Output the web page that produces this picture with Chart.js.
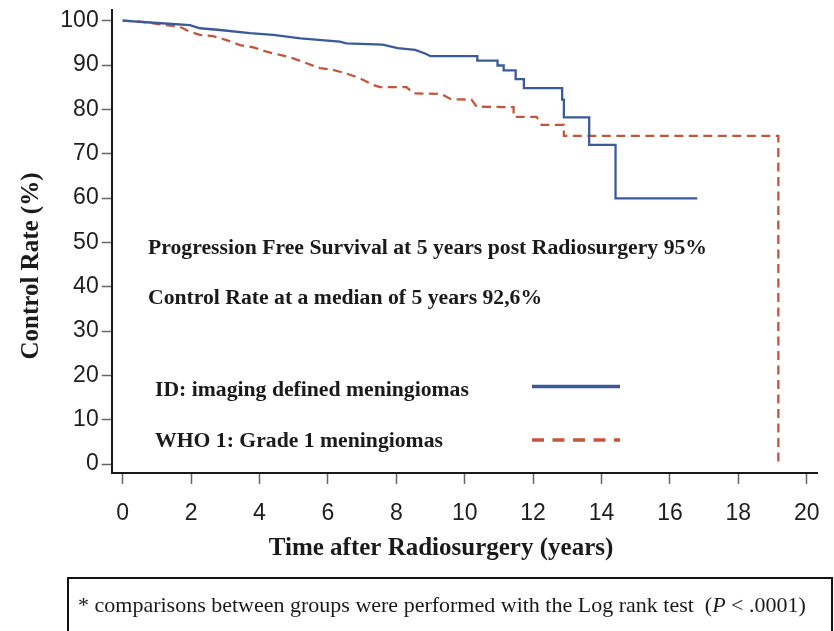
<!DOCTYPE html>
<html>
<head>
<meta charset="utf-8">
<script src="https://cdn.jsdelivr.net/npm/chart.js@4.4.1/dist/chart.umd.min.js"></script>
<style>
    html, body { margin: 0; padding: 0; background: #ffffff; }
    #wrap { width: 834px; height: 631px; }
</style>
</head>
<body>
<div id="wrap"><canvas id="km" width="834" height="631"></canvas></div>
<script>
// Kaplan-Meier control rate (%) by years after radiosurgery.
// Vertices of the drawn curves; a repeated time is a vertical drop.
const idTimes  = [0, 0.8, 1.97, 2.26, 2.85, 3.72, 4.4, 5.2, 6.35, 6.54, 7.6, 8.04, 8.55, 8.84, 9.0, 10.37, 10.37, 10.96, 10.96, 11.14, 11.14, 11.49, 11.49, 11.73, 11.73, 12.85, 12.85, 12.9, 12.9, 13.64, 13.64, 14.41, 14.41, 16.8];
const idRates  = [100, 99.6, 99.0, 98.3, 97.9, 97.2, 96.8, 96.0, 95.3, 94.9, 94.6, 93.8, 93.4, 92.6, 92.0, 92.0, 91.0, 91.0, 89.9, 89.9, 88.8, 88.8, 86.8, 86.8, 84.8, 84.8, 82.2, 82.2, 78.2, 78.2, 72.0, 72.0, 59.9, 59.9];

const whoTimes = [0, 0.51, 1.68, 1.97, 2.26, 2.65, 3.04, 3.43, 3.82, 4.21, 4.6, 4.99, 5.38, 5.77, 6.15, 6.54, 6.94, 7.33, 7.52, 8.3, 8.5, 9.3, 9.6, 10.2, 10.35, 11.43, 11.43, 12.1, 12.25, 12.9, 12.9, 19.17, 19.17];
const whoRates = [100, 99.8, 98.6, 97.5, 96.8, 96.5, 95.6, 94.5, 94.0, 93.0, 92.3, 91.5, 90.4, 89.3, 88.9, 88.1, 87.0, 85.5, 85.0, 85.0, 83.6, 83.5, 82.3, 82.2, 80.6, 80.5, 78.3, 78.3, 76.5, 76.5, 74.0, 74.0, 0];

const xTicks = [0, 2, 4, 6, 8, 10, 12, 14, 16, 18, 20];
const yTicks = [0, 10, 20, 30, 40, 50, 60, 70, 80, 90, 100];

const BLUE = '#3b5a9a';
const RED = '#c4553d';
const SERIF = '"Liberation Serif", "Times New Roman", serif';
const tickFont = { family: '"Liberation Sans", Arial, sans-serif', size: 23 };

function toPoints(xs, ys) {
    return xs.map((x, i) => ({ x: x, y: ys[i] }));
}

// keep the scales from pushing the plot area around
function fixScale(size) {
    return s => {
        if (s.isHorizontal()) s.height = size; else s.width = size;
        s.paddingTop = 0;
        s.paddingBottom = 0;
        s.paddingLeft = 0;
        s.paddingRight = 0;
    };
}

// text, legend samples and the footnote box
const notesPlugin = {
    id: 'notes',
    afterDraw(chart) {
        const ctx = chart.ctx;
        ctx.save();
        ctx.fillStyle = '#1a1a1a';
        ctx.textBaseline = 'alphabetic';
        ctx.textAlign = 'left';

        ctx.font = 'bold 21.7px ' + SERIF;
        ctx.fillText('Progression Free Survival at 5 years post Radiosurgery 95%', 148, 254);
        ctx.fillText('Control Rate at a median of 5 years 92,6%', 148, 304);
        ctx.fillText('ID: imaging defined meningiomas', 155, 396);
        ctx.fillText('WHO 1: Grade 1 meningiomas', 155, 447);

        // legend samples
        ctx.lineWidth = 3.5;
        ctx.strokeStyle = BLUE;
        ctx.beginPath();
        ctx.moveTo(532, 386.5);
        ctx.lineTo(620, 386.5);
        ctx.stroke();
        ctx.strokeStyle = RED;
        ctx.setLineDash([12, 8.5]);
        ctx.beginPath();
        ctx.moveTo(532, 440);
        ctx.lineTo(620, 440);
        ctx.stroke();
        ctx.setLineDash([]);

        // axis titles
        ctx.font = 'bold 25px ' + SERIF;
        ctx.textAlign = 'center';
        ctx.textBaseline = 'middle';
        ctx.fillText('Time after Radiosurgery (years)', 441, 549);
        ctx.save();
        ctx.translate(32, 266);
        ctx.rotate(-Math.PI / 2);
        ctx.fillText('Control Rate (%)', 0, 0);
        ctx.restore();

        // footnote box
        ctx.lineWidth = 2;
        ctx.strokeStyle = '#111';
        ctx.strokeRect(68, 578, 764, 70);
        ctx.textAlign = 'left';
        ctx.textBaseline = 'alphabetic';
        let x = 78;
        const y = 612;
        const parts = [
            ['* comparisons between groups were performed with the Log rank test  (', 'normal'],
            ['P', 'italic'],
            [' < .0001)', 'normal']
        ];
        parts.forEach(([txt, style]) => {
            ctx.font = style + ' 22px ' + SERIF;
            ctx.fillText(txt, x, y);
            x += ctx.measureText(txt).width;
        });
        ctx.restore();
    }
};

new Chart(document.getElementById('km'), {
    type: 'line',
    data: {
        datasets: [
            {
                label: 'ID: imaging defined meningiomas',
                data: toPoints(idTimes, idRates),
                borderColor: BLUE,
                borderWidth: 2.3,
                pointRadius: 0,
                tension: 0,
                fill: false
            },
            {
                label: 'WHO 1: Grade 1 meningiomas',
                data: toPoints(whoTimes, whoRates),
                borderColor: RED,
                borderWidth: 2.3,
                borderDash: [9, 5.5],
                pointRadius: 0,
                tension: 0,
                fill: false
            }
        ]
    },
    options: {
        responsive: false,
        animation: false,
        events: [],
        layout: { autoPadding: false, padding: { top: 10, right: 17, bottom: 0, left: 0 } },
        plugins: {
            legend: { display: false },
            tooltip: { enabled: false }
        },
        scales: {
            x: {
                type: 'linear',
                min: -0.32,
                max: 20.3,
                afterBuildTicks: s => { s.ticks = xTicks.map(v => ({ value: v })); },
                afterFit: fixScale(158),
                ticks: { font: tickFont, color: '#1e1e1e', padding: 16, maxRotation: 0, autoSkip: false },
                grid: { drawOnChartArea: false, drawTicks: true, tickLength: 11, tickColor: '#666', tickWidth: 1.5 },
                border: { display: true, color: '#1a1a1a', width: 2 }
            },
            y: {
                type: 'linear',
                min: -2.03,
                max: 102.415,
                afterBuildTicks: s => { s.ticks = yTicks.map(v => ({ value: v })); },
                afterFit: fixScale(111.7),
                ticks: { font: tickFont, color: '#1e1e1e', padding: 3, autoSkip: false },
                grid: { drawOnChartArea: false, drawTicks: true, tickLength: 10, tickColor: '#666', tickWidth: 1.5 },
                border: { display: true, color: '#1a1a1a', width: 2 }
            }
        }
    },
    plugins: [notesPlugin]
});
</script>
</body>
</html>
